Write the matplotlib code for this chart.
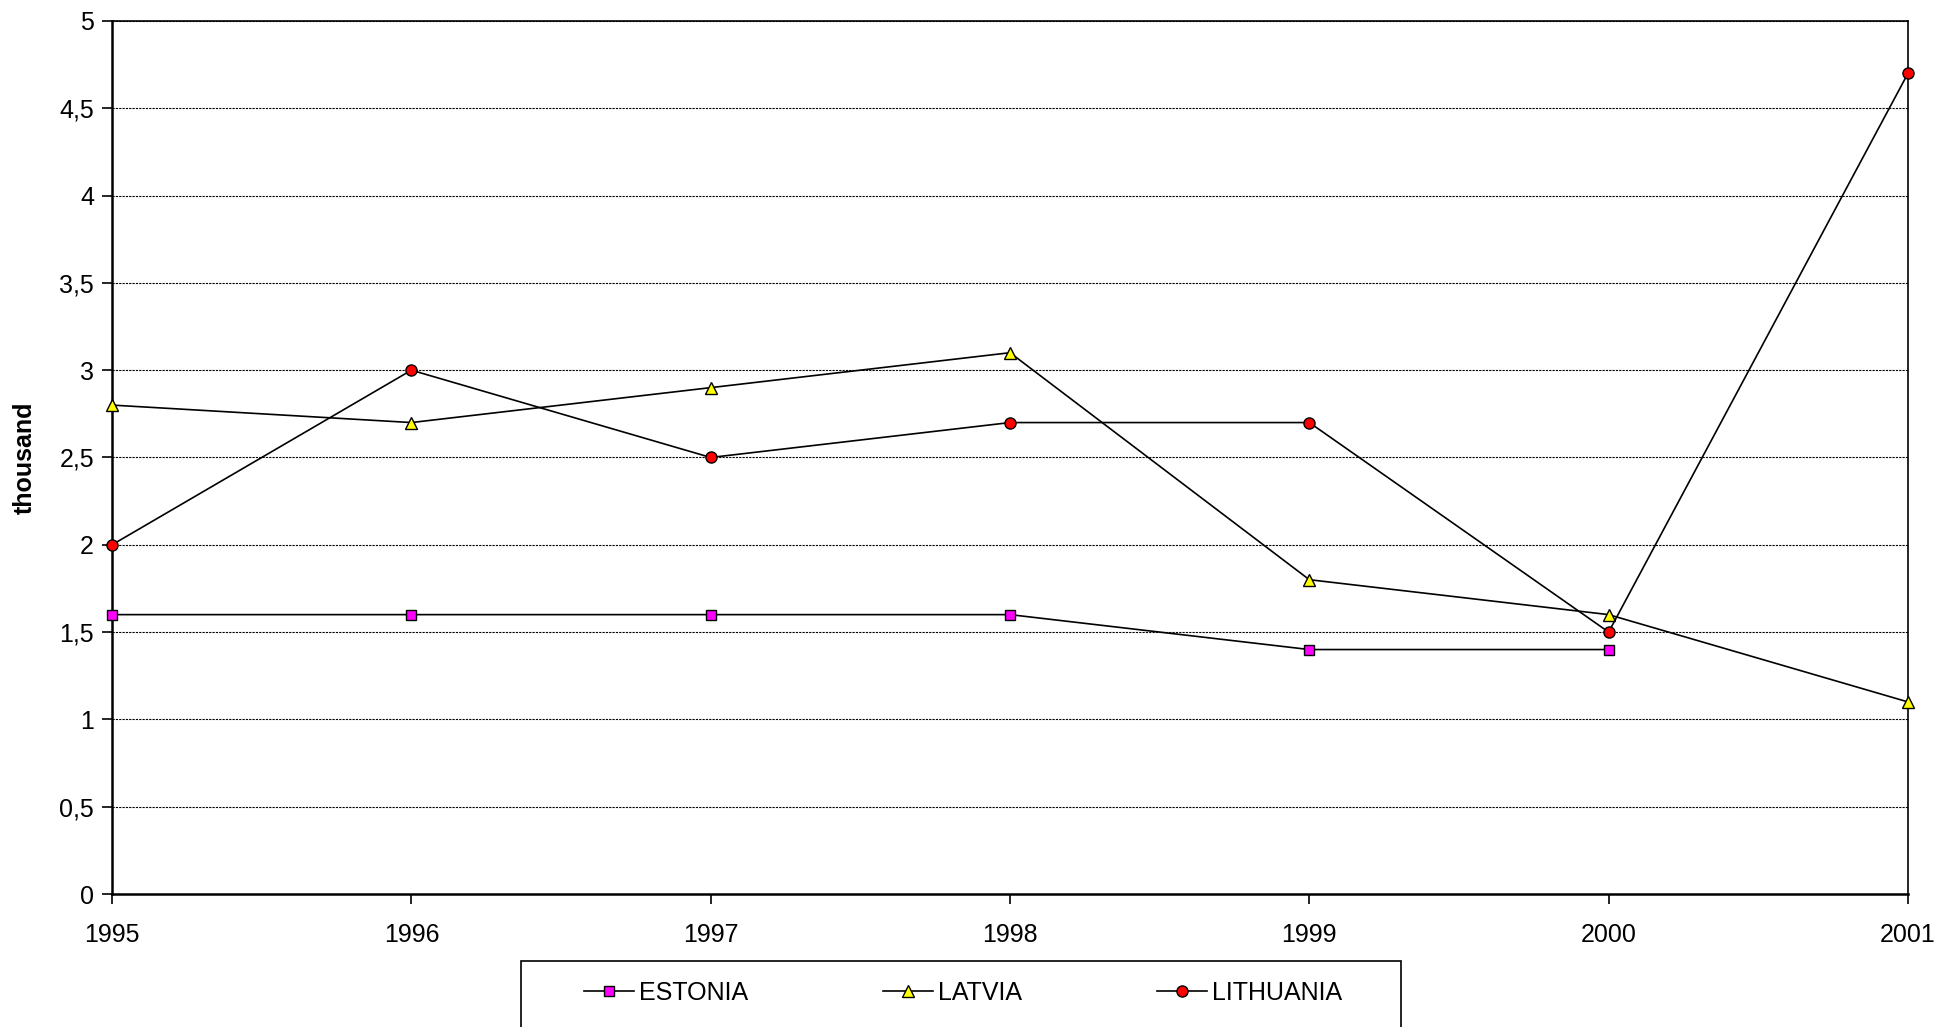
import matplotlib
matplotlib.use('Agg')
import matplotlib.pyplot as plt
from matplotlib.patches import Rectangle

plt.rcParams['font.family'] = ['Liberation Sans', 'DejaVu Sans']

years = [1995, 1996, 1997, 1998, 1999, 2000, 2001]
estonia = [1.6, 1.6, 1.6, 1.6, 1.4, 1.4]          # no value for 2001
latvia = [2.8, 2.7, 2.9, 3.1, 1.8, 1.6, 1.1]
lithuania = [2.0, 3.0, 2.5, 2.7, 2.7, 1.5, 4.7]
y_ticks = [0, 0.5, 1, 1.5, 2, 2.5, 3, 3.5, 4, 4.5, 5]
y_labels = ['0', '0,5', '1', '1,5', '2', '2,5', '3', '3,5', '4', '4,5', '5']

fig = plt.figure(figsize=(19.39, 10.27), dpi=100)
ax = fig.add_axes([0.0578, 0.1295, 0.9262, 0.8501])

mk = dict(color='black', lw=1.2, markeredgecolor='black',
          markeredgewidth=1.0, clip_on=False, zorder=3)
ax.plot(years[:len(estonia)], estonia, marker='s', markerfacecolor='#ff00ff',
        markersize=7.5, label='ESTONIA', **mk)
ax.plot(years, latvia, marker='^', markerfacecolor='#ffff00',
        markersize=9, label='LATVIA', **mk)
ax.plot(years, lithuania, marker='o', markerfacecolor='#ff0000',
        markersize=8, label='LITHUANIA', **mk)

ax.set_xlim(1995, 2001)
ax.set_ylim(0, 5)
ax.set_xticks(years)
ax.set_xticklabels([str(y) for y in years])
ax.set_yticks(y_ticks)
ax.set_yticklabels(y_labels)
ax.tick_params(axis='both', direction='out', length=7, width=1.2,
               labelsize=18, color='black')
ax.tick_params(axis='x', pad=14)
ax.tick_params(axis='y', pad=6)

ax.yaxis.grid(True, color='black', lw=0.8, linestyle=(0, (2, 1)))
ax.set_axisbelow(True)
for s in ax.spines.values():
    s.set_linewidth(1.8)
    s.set_color('black')
ax.spines['top'].set_linewidth(1.2)
ax.spines['right'].set_linewidth(1.2)

ax.set_ylabel('thousand', fontsize=18, fontweight='bold', labelpad=16)

# legend box (extends past bottom edge of the figure)
fig.patches.append(Rectangle((521 / 1939, -0.02), (1401 - 521) / 1939,
                             0.02 + (1027 - 961) / 1027,
                             transform=fig.transFigure, fill=False,
                             edgecolor='black', lw=1.2))
fig.legend(loc='center', bbox_to_anchor=(963 / 1939, 1 - 993 / 1027),
           ncol=3, frameon=False, fontsize=18, handlelength=2.0,
           handletextpad=0.2, columnspacing=5.4)

fig.savefig('out.png', dpi=100)
